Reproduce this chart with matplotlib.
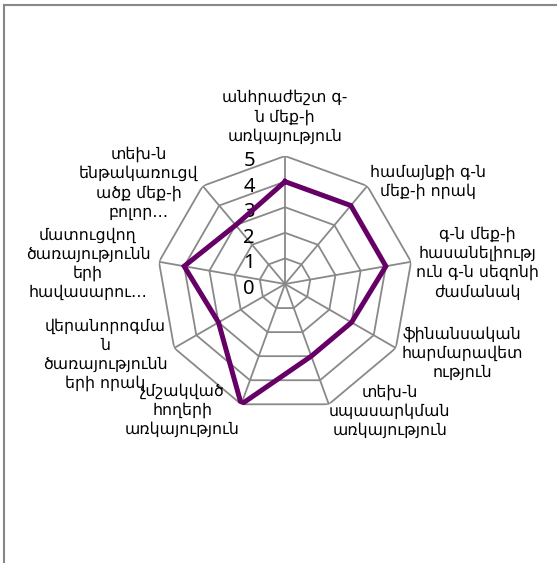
import numpy as np
import matplotlib
matplotlib.use('Agg')
import matplotlib.pyplot as plt
import matplotlib.transforms as mtransforms
from matplotlib.lines import Line2D

plt.rcParams['font.family'] = ['DejaVu Sans']

# Data
categories = [
    'անհրաժեշտ գ-\nն մեք-ի\nառկայություն',
    'համայնքի գ-ն\nմեք-ի որակ',
    'գ-ն մեք-ի\nհասանելիությ\nուն գ-ն սեզոնի\nժամանակ',
    'ֆինանսական\nհարմարավետ\nություն',
    'տեխ-ն\nսպասարկման\nառկայություն',
    'չմշակված\nհողերի\nառկայություն',
    'վերանորոգմա\nն\nծառայությունն\nերի որակ',
    'մատուցվող\nծառայությունն\nերի\nհավասարու…',
    'տեխ-ն\nենթակառուցվ\nածք մեք-ի\nբոլոր…',
]
values = [4, 4, 4, 3, 3, 5, 3, 4, 3]
levels = [0, 1, 2, 3, 4, 5]

# label offsets from the outer vertex, in pixels
label_offsets = [(0, 39), (61, 4), (66, -1), (66, -5), (61, -7),
                 (-59, -6), (-69, -7), (-71, -2), (-64, 3)]

grid_color = '#898989'
line_color = '#660066'

fig = plt.figure(figsize=(5.57, 5.63), dpi=100)
ax = fig.add_axes([0.2819, 0.2682, 0.4596, 0.4547], projection='polar')
ax.set_theta_zero_location('N')
ax.set_theta_direction(-1)
ax.set_ylim(0, levels[-1])
ax.grid(False)
ax.spines['polar'].set_visible(False)
ax.set_xticks([])
ax.set_yticks([])
ax.patch.set_alpha(0)

n = len(categories)
angles = np.arange(n) * 2 * np.pi / n
closed = np.append(angles, angles[0])

# polygon grid
for lv in levels[1:]:
    ax.plot(closed, [lv] * (n + 1), color=grid_color, linewidth=1.3, zorder=1)
for a in angles:
    ax.plot([a, a], [0, levels[-1]], color=grid_color, linewidth=1.3, zorder=1)

# data line
ax.plot(closed, values + values[:1], color=line_color, linewidth=3.6,
        solid_joinstyle='miter', zorder=4)

# level numbers
for lv in levels:
    tr = mtransforms.offset_copy(ax.transData, fig=fig, x=-36, y=-5, units='dots')
    ax.text(0, lv, str(lv), transform=tr, ha='center', va='center',
            fontsize=14.5, family=['Noto Sans', 'DejaVu Sans'], zorder=2)

# category labels
for a, lab, (dx, dy) in zip(angles, categories, label_offsets):
    tr = mtransforms.offset_copy(ax.transData, fig=fig, x=dx, y=dy, units='dots')
    ax.text(a, levels[-1], lab, transform=tr, ha='center', va='center',
            multialignment='center', fontsize=11.3, linespacing=1.3,
            zorder=2, clip_on=False)

# chart area border (top and left edges visible)
fig.add_artist(Line2D([4 / 557, 1], [1 - 5 / 563, 1 - 5 / 563],
                      transform=fig.transFigure, color='#888888', linewidth=1.5))
fig.add_artist(Line2D([4 / 557, 4 / 557], [0, 1 - 5 / 563],
                      transform=fig.transFigure, color='#888888', linewidth=1.5))

fig.savefig('out.png', dpi=100)
